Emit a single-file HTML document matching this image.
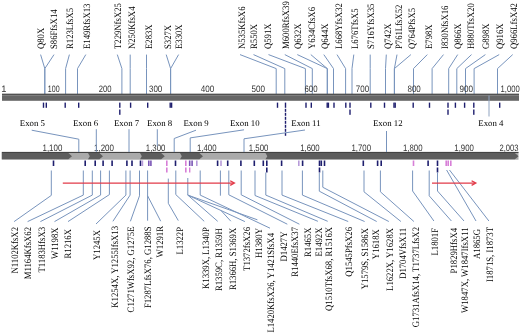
<!DOCTYPE html>
<html><head><meta charset="utf-8"><style>
html,body{margin:0;padding:0;background:#fff;width:520px;height:335px;overflow:hidden;font-family:"Liberation Sans",sans-serif;}
svg{display:block;text-rendering:geometricPrecision;filter:blur(0.3px);}
</style></head><body>
<svg width="520" height="335" viewBox="0 0 520 335">
<rect width="520" height="335" fill="#fff"/>
<g fill="none" stroke="#7894bd" stroke-width="1">
<polyline points="40.6,54.6 44.8,68.6 44.8,94"/>
<polyline points="54,54.6 44.8,68.6 44.8,94"/>
<polyline points="69.4,54.6 65.6,68.6 65.6,94"/>
<polyline points="85.8,54.6 77.5,68.6 77.5,94"/>
<polyline points="117.3,54.6 121.9,68.6 121.9,94"/>
<polyline points="130.2,54.6 130.2,68.6 130.2,94"/>
<polyline points="146.5,54.6 146.5,68.6 146.5,94"/>
<polyline points="166.2,54.6 170.6,68.6 170.6,94"/>
<polyline points="178.6,54.6 170.6,68.6 170.6,94"/>
<polyline points="240,54.6 276.2,68.6 276.2,94"/>
<polyline points="253.5,54.6 284.8,68.6 284.8,94"/>
<polyline points="268.5,54.6 305.4,68.6 305.4,94"/>
<polyline points="284.8,54.6 312.3,68.6 312.3,94"/>
<polyline points="297.3,54.6 327.3,68.6 327.3,94"/>
<polyline points="310.8,54.6 327.3,68.6 327.3,94"/>
<polyline points="323.8,54.6 333.5,68.6 333.5,94"/>
<polyline points="337,54.6 345.6,68.6 345.6,94"/>
<polyline points="353.8,54.6 352,68.6 352,94"/>
<polyline points="370.2,54.6 370.2,68.6 370.2,94"/>
<polyline points="386.3,54.6 385.5,68.6 385.5,94"/>
<polyline points="397,54.6 394.4,68.6 394.4,94"/>
<polyline points="410.9,54.6 394.4,68.6 394.4,94"/>
<polyline points="427.3,54.6 413.5,68.6 413.5,94"/>
<polyline points="443.5,54.6 432.1,68.6 432.1,94"/>
<polyline points="457.7,54.6 448.7,68.6 448.7,94"/>
<polyline points="471.5,54.6 456.8,68.6 456.8,94"/>
<polyline points="485.4,54.6 465.5,68.6 465.5,94"/>
<polyline points="499.2,54.6 474.1,68.6 474.1,94"/>
<polyline points="512.7,54.6 497.5,68.6 497.5,94"/>
</g>
<g font-family="Liberation Serif" font-size="8.7" fill="#000000" stroke="#000000" stroke-width="0">
<text transform="translate(44.4,49) rotate(-90) scale(1,1.12)">Q80X</text>
<text transform="translate(57.3,49) rotate(-90) scale(1,1.12)">S86FfsX14</text>
<text transform="translate(73.2,49) rotate(-90) scale(1,1.12)">R123LfsX5</text>
<text transform="translate(89.8,49) rotate(-90) scale(1,1.12)">E149RfsX13</text>
<text transform="translate(121.4,49) rotate(-90) scale(1,1.12)">T229NfsX25</text>
<text transform="translate(134.9,49) rotate(-90) scale(1,1.12)">N250KfsX4</text>
<text transform="translate(151.5,49) rotate(-90) scale(1,1.12)">E283X</text>
<text transform="translate(170.8,49) rotate(-90) scale(1,1.12)">S327X</text>
<text transform="translate(182.3,49) rotate(-90) scale(1,1.12)">E330X</text>
<text transform="translate(245.0,49) rotate(-90) scale(1,1.12)">N535KfsX6</text>
<text transform="translate(257.4,49) rotate(-90) scale(1,1.12)">R550X</text>
<text transform="translate(270.8,49) rotate(-90) scale(1,1.12)">Q591X</text>
<text transform="translate(288.5,49) rotate(-90) scale(1,1.12)">M600RfsX39</text>
<text transform="translate(301.3,49) rotate(-90) scale(1,1.12)">Q632X</text>
<text transform="translate(315.3,49) rotate(-90) scale(1,1.12)">Y634CfsX6</text>
<text transform="translate(327.8,49) rotate(-90) scale(1,1.12)">Q644X</text>
<text transform="translate(341.6,49) rotate(-90) scale(1,1.12)">L668YfsX32</text>
<text transform="translate(357.8,49) rotate(-90) scale(1,1.12)">L676TfsX5</text>
<text transform="translate(374.4,49) rotate(-90) scale(1,1.12)">S716YfsX35</text>
<text transform="translate(391.2,49) rotate(-90) scale(1,1.12)">Q742X</text>
<text transform="translate(402.0,49) rotate(-90) scale(1,1.12)">P761LfsX52</text>
<text transform="translate(415.3,49) rotate(-90) scale(1,1.12)">Q764PfsX5</text>
<text transform="translate(431.5,49) rotate(-90) scale(1,1.12)">E798X</text>
<text transform="translate(447.9,49) rotate(-90) scale(1,1.12)">I830NfsX16</text>
<text transform="translate(461.0,49) rotate(-90) scale(1,1.12)">Q866X</text>
<text transform="translate(474.4,49) rotate(-90) scale(1,1.12)">H880TfsX20</text>
<text transform="translate(489.0,49) rotate(-90) scale(1,1.12)">G898X</text>
<text transform="translate(503.2,49) rotate(-90) scale(1,1.12)">Q916X</text>
<text transform="translate(517.4,49) rotate(-90) scale(1,1.12)">Q966LfsX42</text>
</g>
<g font-family="Liberation Sans" font-size="9.3" fill="#333333">
<text x="1.2" y="92.4">1</text>
<text x="47.8" y="92.4" textLength="11.8" lengthAdjust="spacingAndGlyphs">100</text>
<text x="98.8" y="92.4" textLength="12.8" lengthAdjust="spacingAndGlyphs">200</text>
<text x="149" y="92.4" textLength="13.3" lengthAdjust="spacingAndGlyphs">300</text>
<text x="200.8" y="92.4" textLength="13.5" lengthAdjust="spacingAndGlyphs">400</text>
<text x="251.5" y="92.4" textLength="13.5" lengthAdjust="spacingAndGlyphs">500</text>
<text x="304.5" y="92.4" textLength="13" lengthAdjust="spacingAndGlyphs">600</text>
<text x="355.8" y="92.4" textLength="13.3" lengthAdjust="spacingAndGlyphs">700</text>
<text x="407.5" y="92.4" textLength="13.3" lengthAdjust="spacingAndGlyphs">800</text>
<text x="459.5" y="92.4" textLength="13.5" lengthAdjust="spacingAndGlyphs">900</text>
<text x="500.6" y="92.4" textLength="19.2" lengthAdjust="spacingAndGlyphs">1,000</text>
</g>
<rect x="2" y="93.8" width="517" height="7" fill="#666666"/>
<rect x="2" y="93.8" width="517" height="1" fill="#3c3c3c"/>
<rect x="2" y="94.8" width="517" height="1" fill="#858585"/>
<g fill="#1e1e6e">
<rect x="42.8" y="102.6" width="1.4" height="5.2"/>
<rect x="45.6" y="102.6" width="1.4" height="5.2"/>
<rect x="64.5" y="102.6" width="1.4" height="5.2"/>
<rect x="78.0" y="102.6" width="1.4" height="5.2"/>
<rect x="119.1" y="102.6" width="1.4" height="5.2"/>
<rect x="119.1" y="109.5" width="1.4" height="5.3"/>
<rect x="129.9" y="102.6" width="1.4" height="5.2"/>
<rect x="147.0" y="102.6" width="1.4" height="5.2"/>
<rect x="169.5" y="102.6" width="1.4" height="5.2"/>
<rect x="170.9" y="102.6" width="1.4" height="5.2"/>
<rect x="276.8" y="102.6" width="1.4" height="5.2"/>
<rect x="284.8" y="102.6" width="1.4" height="5.2"/>
<rect x="284.8" y="108.8" width="1.4" height="3"/>
<rect x="284.8" y="112.8" width="1.4" height="3"/>
<rect x="284.8" y="116.8" width="1.4" height="3"/>
<rect x="284.8" y="120.8" width="1.4" height="3"/>
<rect x="284.8" y="124.8" width="1.4" height="3"/>
<rect x="284.8" y="128.8" width="1.4" height="3"/>
<rect x="284.8" y="132.8" width="1.4" height="3"/>
<rect x="305.3" y="102.6" width="1.4" height="5.2"/>
<rect x="310.6" y="102.6" width="1.4" height="5.2"/>
<rect x="326.5" y="102.6" width="1.4" height="5.2"/>
<rect x="327.7" y="102.6" width="1.4" height="5.2"/>
<rect x="333.3" y="102.6" width="1.4" height="5.2"/>
<rect x="345.1" y="102.6" width="1.4" height="5.2"/>
<rect x="349.3" y="102.6" width="1.4" height="5.2"/>
<rect x="349.3" y="109.5" width="1.4" height="5.3"/>
<rect x="370.1" y="102.6" width="1.4" height="5.2"/>
<rect x="383.8" y="102.6" width="1.4" height="5.2"/>
<rect x="393.3" y="102.6" width="1.4" height="5.2"/>
<rect x="394.5" y="102.6" width="1.4" height="5.2"/>
<rect x="412.5" y="102.6" width="1.4" height="5.2"/>
<rect x="428.8" y="102.6" width="1.4" height="5.2"/>
<rect x="447.3" y="102.6" width="1.4" height="5.2"/>
<rect x="447.3" y="109.5" width="1.4" height="5.3"/>
<rect x="454.7" y="102.6" width="1.4" height="5.2"/>
<rect x="463.9" y="102.6" width="1.4" height="5.2"/>
<rect x="473.1" y="102.6" width="1.4" height="5.2"/>
<rect x="473.1" y="109.5" width="1.4" height="5.3"/>
<rect x="499.0" y="102.6" width="1.4" height="5.2"/>
</g>
<g font-family="Liberation Serif" font-size="8.8" fill="#000000">
<text x="19.8" y="125.6">Exon 5</text>
<text x="73" y="125.6">Exon 6</text>
<text x="114" y="125.6">Exon 7</text>
<text x="147.1" y="125.6">Exon 8</text>
<text x="183.5" y="125.6">Exon 9</text>
<text x="230" y="125.6">Exon 10</text>
<text x="291.3" y="125.6">Exon 11</text>
<text x="373" y="125.6">Exon 12</text>
<text x="478.3" y="125.6">Exon 4</text>
</g>
<g font-family="Liberation Sans" font-size="9.3" fill="#333333">
<text x="42.5" y="150.5" textLength="19.8" lengthAdjust="spacingAndGlyphs">1,100</text>
<text x="94" y="150.5" textLength="20" lengthAdjust="spacingAndGlyphs">1,200</text>
<text x="145.8" y="150.5" textLength="19.5" lengthAdjust="spacingAndGlyphs">1,300</text>
<text x="197" y="150.5" textLength="19.5" lengthAdjust="spacingAndGlyphs">1,400</text>
<text x="248.8" y="150.5" textLength="19.5" lengthAdjust="spacingAndGlyphs">1,500</text>
<text x="300.2" y="150.5" textLength="19.5" lengthAdjust="spacingAndGlyphs">1,600</text>
<text x="351.5" y="150.5" textLength="19.5" lengthAdjust="spacingAndGlyphs">1,700</text>
<text x="403" y="150.5" textLength="19.5" lengthAdjust="spacingAndGlyphs">1,800</text>
<text x="454.3" y="150.5" textLength="19.5" lengthAdjust="spacingAndGlyphs">1,900</text>
<text x="499.5" y="150.5" textLength="19" lengthAdjust="spacingAndGlyphs">2,003</text>
</g>
<rect x="1.8" y="152.3" width="516.7" height="7.4" fill="#aaaaaa"/>
<polygon points="1.8,153.1 68.4,153.1 72,156.2 68.4,159.3 1.8,159.3 1.8,156.2" fill="#5d5d5d"/>
<polygon points="88,153.1 99.4,153.1 103,156.2 99.4,159.3 88,159.3 89.8,156.2" fill="#5d5d5d"/>
<polygon points="140,153.1 161.20000000000002,153.1 164.8,156.2 161.20000000000002,159.3 140,159.3 141.8,156.2" fill="#5d5d5d"/>
<polygon points="180,153.1 199.4,153.1 203,156.2 199.4,159.3 180,159.3 181.8,156.2" fill="#5d5d5d"/>
<polygon points="265.5,153.1 514.9,153.1 518.5,156.2 514.9,159.3 265.5,159.3 267.3,156.2" fill="#5d5d5d"/>
<rect x="1.8" y="151.9" width="516.7" height="1" fill="#363636"/>
<g fill="none" stroke="#7894bd" stroke-width="1">
<polyline points="31.7,130.2 78.8,139.2 78.8,152"/>
<polyline points="96.3,129.2 96.3,152"/>
<polyline points="129,129.2 129,152"/>
<polyline points="157.3,129.2 157.3,146.5"/>
<polyline points="196,130.2 174.2,138.5 174.2,152"/>
<polyline points="244,129.8 190.2,137.9 190.2,152"/>
<polyline points="305,130 244,138.8 244,152"/>
<polyline points="386.5,131 386.5,152"/>
<polyline points="489,95.5 489,116.5" stroke="#8fa3c0"/>
</g>
<rect x="52.7" y="160.5" width="1.6" height="5.5" fill="#1e1e6e"/>
<rect x="84.4" y="160.5" width="1.6" height="5.5" fill="#1e1e6e"/>
<rect x="94.4" y="160.5" width="1.6" height="5.5" fill="#1e1e6e"/>
<rect x="102.3" y="160.5" width="1.6" height="5.5" fill="#1e1e6e"/>
<rect x="111.3" y="160.5" width="1.6" height="5.5" fill="#1e1e6e"/>
<rect x="126.1" y="160.5" width="1.6" height="5.5" fill="#1e1e6e"/>
<rect x="131.2" y="160.5" width="1.6" height="5.5" fill="#1e1e6e"/>
<rect x="139.7" y="160.5" width="1.6" height="5.5" fill="#1e1e6e"/>
<rect x="141.6" y="160.5" width="1.6" height="5.5" fill="#b79bd9"/>
<rect x="148.0" y="160.5" width="1.6" height="5.5" fill="#7a55b5"/>
<rect x="150.1" y="160.5" width="1.6" height="5.5" fill="#7a55b5"/>
<rect x="166.0" y="160.5" width="1.6" height="5.5" fill="#d77fd7"/>
<rect x="166.0" y="167.5" width="1.6" height="5" fill="#d77fd7"/>
<rect x="174.7" y="160.5" width="1.6" height="5.5" fill="#1e1e6e"/>
<rect x="185.0" y="160.5" width="1.6" height="5.5" fill="#d77fd7"/>
<rect x="185.0" y="167.5" width="1.6" height="5" fill="#d77fd7"/>
<rect x="188.9" y="160.5" width="1.6" height="5.5" fill="#7a55b5"/>
<rect x="191.3" y="160.5" width="1.6" height="5.5" fill="#7a55b5"/>
<rect x="189.0" y="167.5" width="1.4" height="5" fill="#d77fd7"/>
<rect x="196.0" y="160.5" width="1.6" height="5.5" fill="#b79bd9"/>
<rect x="216.8" y="160.5" width="1.6" height="5.5" fill="#1e1e6e"/>
<rect x="220.2" y="160.5" width="1.6" height="5.5" fill="#b79bd9"/>
<rect x="226.9" y="160.5" width="1.6" height="5.5" fill="#1e1e6e"/>
<rect x="240.1" y="160.5" width="1.6" height="5.5" fill="#1e1e6e"/>
<rect x="253.5" y="160.5" width="1.6" height="5.5" fill="#1e1e6e"/>
<rect x="262.5" y="160.5" width="1.6" height="5.5" fill="#1e1e6e"/>
<rect x="266.0" y="160.5" width="1.6" height="5.5" fill="#1e1e6e"/>
<rect x="266.0" y="167.5" width="1.6" height="5" fill="#1e1e6e"/>
<rect x="280.8" y="160.5" width="1.6" height="5.5" fill="#1e1e6e"/>
<rect x="298.0" y="160.5" width="1.6" height="5.5" fill="#b79bd9"/>
<rect x="301.8" y="160.5" width="1.6" height="5.5" fill="#1e1e6e"/>
<rect x="318.7" y="160.5" width="1.6" height="5.5" fill="#1e1e6e"/>
<rect x="318.7" y="167.5" width="1.6" height="5" fill="#1e1e6e"/>
<rect x="320.5" y="160.5" width="1.6" height="5.5" fill="#1e1e6e"/>
<rect x="323.7" y="160.5" width="1.6" height="5.5" fill="#1e1e6e"/>
<rect x="362.5" y="160.5" width="1.6" height="5.5" fill="#1e1e6e"/>
<rect x="376.8" y="160.5" width="1.6" height="5.5" fill="#1e1e6e"/>
<rect x="380.4" y="160.5" width="1.6" height="5.5" fill="#1e1e6e"/>
<rect x="412.7" y="160.5" width="1.6" height="5.5" fill="#d77fd7"/>
<rect x="427.3" y="160.5" width="1.6" height="5.5" fill="#1e1e6e"/>
<rect x="436.7" y="160.5" width="1.6" height="5.5" fill="#1e1e6e"/>
<rect x="436.7" y="167.5" width="1.6" height="5" fill="#1e1e6e"/>
<rect x="445.4" y="160.5" width="1.6" height="5.5" fill="#d77fd7"/>
<rect x="447.4" y="160.5" width="1.6" height="5.5" fill="#d77fd7"/>
<rect x="450.0" y="160.5" width="1.6" height="5.5" fill="#d77fd7"/>
<g fill="none" stroke="#7894bd" stroke-width="1">
<polyline points="51.3,170.5 51.3,195.4 14.1,221.6"/>
<polyline points="83.3,170.5 83.3,195.1 27.6,221.6"/>
<polyline points="92.3,170.5 92.3,195.1 40.4,221.6"/>
<polyline points="100.6,170.5 100.6,195.1 54.5,221.6"/>
<polyline points="109.4,170.5 109.4,194.6 68,221.6"/>
<polyline points="125.9,170.5 125.9,195.1 96,224"/>
<polyline points="130.1,170.5 130.1,195.1 112.9,221.3"/>
<polyline points="139.5,170.5 139.5,195.8 130.4,221.3"/>
<polyline points="147.6,170.5 147.6,220.7"/>
<polyline points="147.6,195.8 160.7,221.2"/>
<polyline points="168.3,178.6 168.3,203.3 178.3,220.6"/>
<polyline points="175.8,170.5 175.8,194.6 204.2,221.3"/>
<polyline points="187.8,178 187.8,195.1 217.7,221.3"/>
<polyline points="187.8,195.1 221,210.5 230.8,221.2"/>
<polyline points="221,210.5 244.9,221.6"/>
<polyline points="187.8,195.1 257.4,219.8"/>
<polyline points="200.2,170.5 200.2,195.1 270,228.2"/>
<polyline points="220.4,170.5 220.4,195.7"/>
<polyline points="228.8,170.5 228.8,194.8 287.3,224.2"/>
<polyline points="241.2,170.5 241.2,194.8 299.4,224.2"/>
<polyline points="255,170.5 255,195.5 317.9,221.3"/>
<polyline points="265.8,172.5 265.8,195.1 327.7,221.3"/>
<polyline points="282,170.5 282,195.1 348.2,221.5"/>
<polyline points="302.4,170.5 302.4,195.1 364.6,221.5"/>
<polyline points="319.3,173 319.3,191.2 376.7,221.5"/>
<polyline points="322.8,170.5 322.8,187.3 388.8,221.5"/>
<polyline points="364,170.5 364,191.8 400.9,221.5"/>
<polyline points="380.4,170.5 380.4,191.8 413.9,221.5"/>
<polyline points="412.6,170.5 412.6,191 433.9,221"/>
<polyline points="429.2,170.5 429.2,195.8 451.4,221"/>
<polyline points="437.5,172.5 437.5,191 464,221"/>
<polyline points="446.6,170 476,221"/>
<polyline points="449.5,170 488.9,221"/>
</g>
<line x1="62.8" y1="183.1" x2="233.6" y2="183.1" stroke="#e23a48" stroke-width="1.2"/>
<polyline points="230.20000000000002,180.8 234.4,183.1 230.20000000000002,185.4" fill="none" stroke="#e23a48" stroke-width="1.3"/>
<line x1="432" y1="183.1" x2="475.0" y2="183.1" stroke="#e23a48" stroke-width="1.2"/>
<polyline points="471.6,180.8 475.8,183.1 471.6,185.4" fill="none" stroke="#e23a48" stroke-width="1.3"/>
<g font-family="Liberation Serif" font-size="8.7" fill="#000000" stroke="#000000" stroke-width="0">
<text transform="translate(18.0,227) rotate(-90) scale(1,1.12)" text-anchor="end">N1102KfsX2</text>
<text transform="translate(31.1,227) rotate(-90) scale(1,1.12)" text-anchor="end">M1164KfsX62</text>
<text transform="translate(44.7,227) rotate(-90) scale(1,1.12)" text-anchor="end">T1183HfsX3</text>
<text transform="translate(57.8,227.5) rotate(-90) scale(1,1.12)" text-anchor="end">W1198X</text>
<text transform="translate(71.2,229) rotate(-90) scale(1,1.12)" text-anchor="end">R1216X</text>
<text transform="translate(100.2,230) rotate(-90) scale(1,1.12)" text-anchor="end">Y1245X</text>
<text transform="translate(117.5,226) rotate(-90) scale(1,1.12)" text-anchor="end">K1254X, Y1255IfsX13</text>
<text transform="translate(134.0,226.5) rotate(-90) scale(1,1.12)" text-anchor="end">C1271WfsX92, G1275E</text>
<text transform="translate(150.8,226.5) rotate(-90) scale(1,1.12)" text-anchor="end">F1287LfsX76, G1288S</text>
<text transform="translate(163.3,226) rotate(-90) scale(1,1.12)" text-anchor="end">W1291R</text>
<text transform="translate(183.0,227) rotate(-90) scale(1,1.12)" text-anchor="end">L1322P</text>
<text transform="translate(208.6,227.2) rotate(-90) scale(1,1.12)" text-anchor="end">K1339X, L1340P</text>
<text transform="translate(222.3,228.3) rotate(-90) scale(1,1.12)" text-anchor="end">R1359C, R1359H</text>
<text transform="translate(235.8,227.8) rotate(-90) scale(1,1.12)" text-anchor="end">R1366H, S1369X</text>
<text transform="translate(249.9,227) rotate(-90) scale(1,1.12)" text-anchor="end">T1372fsX26</text>
<text transform="translate(262.0,228) rotate(-90) scale(1,1.12)" text-anchor="end">H1380Y</text>
<text transform="translate(274.2,233) rotate(-90) scale(1,1.12)" text-anchor="end">L1420KfsX26, Y1421SfsX4</text>
<text transform="translate(286.6,231.5) rotate(-90) scale(1,1.12)" text-anchor="end">D1427Y</text>
<text transform="translate(298.3,227) rotate(-90) scale(1,1.12)" text-anchor="end">R1440EfsX37</text>
<text transform="translate(311.0,227.5) rotate(-90) scale(1,1.12)" text-anchor="end">R1465X</text>
<text transform="translate(322.3,227.5) rotate(-90) scale(1,1.12)" text-anchor="end">E1492X</text>
<text transform="translate(332.0,227) rotate(-90) scale(1,1.12)" text-anchor="end">Q1510TfsX68, R1516X</text>
<text transform="translate(351.6,227) rotate(-90) scale(1,1.12)" text-anchor="end">Q1545PfsX26</text>
<text transform="translate(367.6,228) rotate(-90) scale(1,1.12)" text-anchor="end">Y1579S, S1586X</text>
<text transform="translate(379.3,229.2) rotate(-90) scale(1,1.12)" text-anchor="end">Y1618X</text>
<text transform="translate(393.3,228) rotate(-90) scale(1,1.12)" text-anchor="end">L1622X, Y1628X</text>
<text transform="translate(406.4,228) rotate(-90) scale(1,1.12)" text-anchor="end">D1704VfsX11</text>
<text transform="translate(419.1,227) rotate(-90) scale(1,1.12)" text-anchor="end">G1731AfsX14, T1737LfsX2</text>
<text transform="translate(437.8,228) rotate(-90) scale(1,1.12)" text-anchor="end">L1801F</text>
<text transform="translate(456.7,228) rotate(-90) scale(1,1.12)" text-anchor="end">P1829HfsX4</text>
<text transform="translate(468.1,227.5) rotate(-90) scale(1,1.12)" text-anchor="end">W1847X, W1847IfsX11</text>
<text transform="translate(480.3,229) rotate(-90) scale(1,1.12)" text-anchor="end">A1865G</text>
<text transform="translate(492.5,227) rotate(-90) scale(1,1.12)" text-anchor="end">I1871S, I1873T</text>
</g>
</svg>
</body></html>
